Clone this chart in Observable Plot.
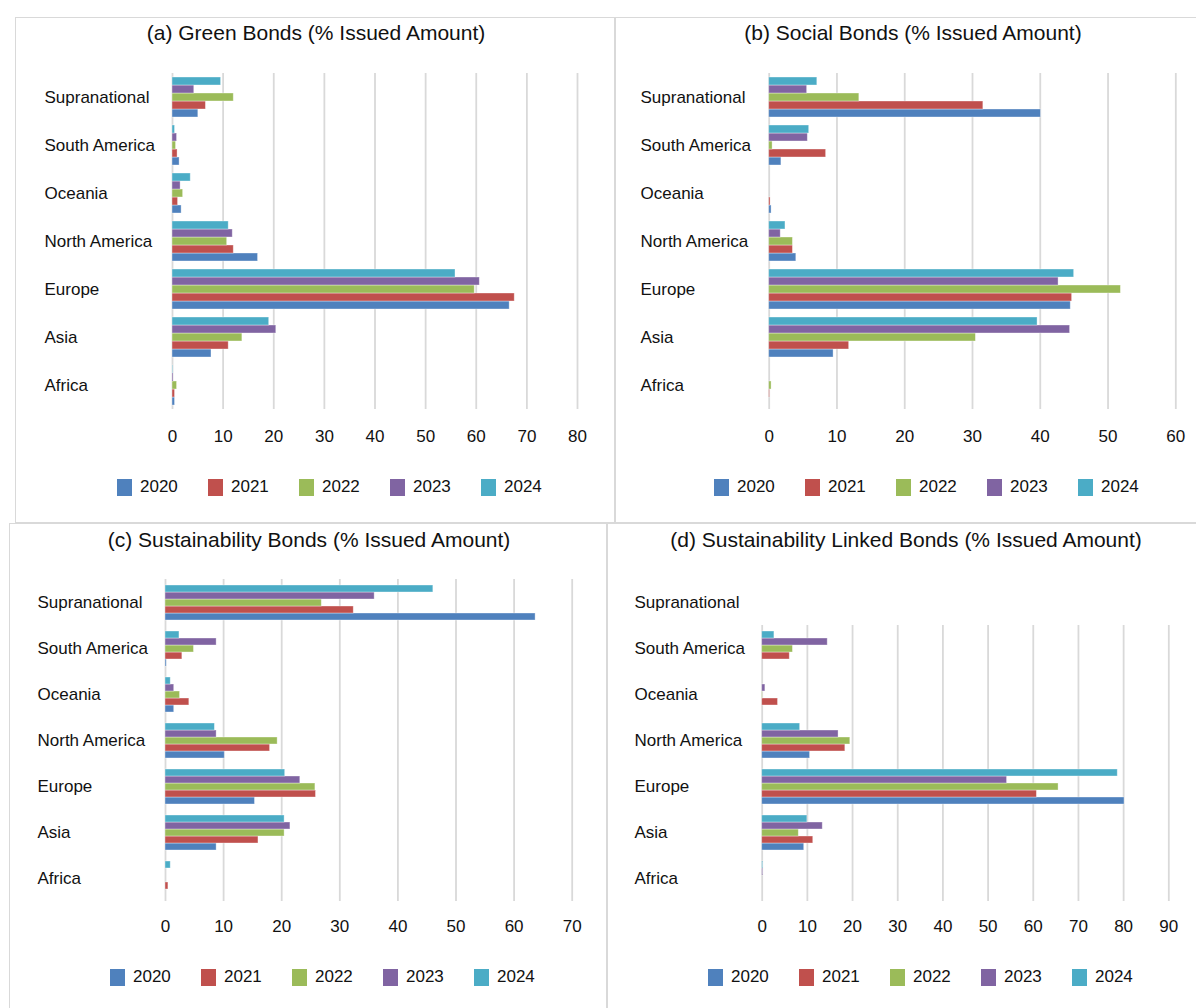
<!DOCTYPE html>
<html><head><meta charset="utf-8">
<script src="https://cdn.jsdelivr.net/npm/d3@7"></script>
<script src="https://cdn.jsdelivr.net/npm/@observablehq/plot@0.6"></script>
<style>
body{margin:0;background:#fff;font-family:"Liberation Sans",Arial,sans-serif;color:#111;}
#root{position:relative;width:1196px;height:1008px;overflow:hidden;background:#fff;}
.panel{position:absolute;border:1px solid #d9d9d9;box-sizing:border-box;background:#fff;}
.title{position:absolute;font-size:21px;white-space:nowrap;transform:translate(-50%,-50%);color:#111;}
.legend{position:absolute;display:flex;font-size:17px;transform:translateY(-50%);color:#111;}
.item{display:flex;align-items:center;width:91px;}
.sw{width:15px;height:17px;margin-right:8px;box-sizing:border-box;}
.chart{position:absolute;}
</style></head><body><div id="root"></div>
<script>
// Categories (top to bottom) and series
const regions = ["Supranational","South America","Oceania","North America","Europe","Asia","Africa"];
const years = ["2020","2021","2022","2023","2024"];
const yearColors = ["#4F81BD","#C0504D","#9BBB59","#8064A2","#4BACC6"];

// (a) Green Bonds, % issued amount, values in region order
const green2020 = [5.1, 1.4, 1.8, 16.9, 66.6, 7.7, 0.5];
const green2021 = [6.6, 1.0, 1.1, 12.1, 67.6, 11.1, 0.5];
const green2022 = [12.1, 0.7, 2.1, 10.8, 59.7, 13.8, 0.9];
const green2023 = [4.3, 0.9, 1.6, 11.9, 60.7, 20.5, 0.2];
const green2024 = [9.6, 0.5, 3.6, 11.1, 55.9, 19.1, 0.1];

// (b) Social Bonds
const social2020 = [40.1, 1.8, 0.35, 4.0, 44.5, 9.5, 0];
const social2021 = [31.6, 8.4, 0.2, 3.5, 44.7, 11.8, 0.1];
const social2022 = [13.3, 0.5, 0, 3.5, 51.9, 30.5, 0.35];
const social2023 = [5.6, 5.7, 0, 1.7, 42.7, 44.4, 0];
const social2024 = [7.1, 5.9, 0, 2.4, 45.0, 39.6, 0];

// (c) Sustainability Bonds
const sust2020 = [63.7, 0.2, 1.5, 10.2, 15.4, 8.8, 0];
const sust2021 = [32.4, 2.9, 4.1, 18.0, 25.9, 16.0, 0.5];
const sust2022 = [26.9, 4.9, 2.5, 19.3, 25.8, 20.5, 0];
const sust2023 = [36.0, 8.8, 1.5, 8.8, 23.2, 21.5, 0];
const sust2024 = [46.1, 2.4, 0.9, 8.5, 20.6, 20.5, 0.9];

// (d) Sustainability Linked Bonds
const slb2020 = [0, 0, 0, 10.6, 80.2, 9.3, 0];
const slb2021 = [0, 6.1, 3.5, 18.4, 60.8, 11.3, 0];
const slb2022 = [0, 6.8, 0.1, 19.5, 65.6, 8.1, 0];
const slb2023 = [0, 14.5, 0.7, 16.9, 54.2, 13.4, 0.2];
const slb2024 = [0, 2.7, 0, 8.4, 78.7, 10.0, 0.2];

// Axis maxima
const xMaxes = [80, 60, 70, 90];
const titles = [
  "(a) Green Bonds (% Issued Amount)",
  "(b) Social Bonds (% Issued Amount)",
  "(c) Sustainability Bonds (% Issued Amount)",
  "(d) Sustainability Linked Bonds (% Issued Amount)"
];
const series = [
  [green2020, green2021, green2022, green2023, green2024],
  [social2020, social2021, social2022, social2023, social2024],
  [sust2020, sust2021, sust2022, sust2023, sust2024],
  [slb2020, slb2021, slb2022, slb2023, slb2024]
];

// Layout (page pixels)
const layout = [
  {box:[15,17,600,506], svgTop:60, frameTop:73, frameBottom:409, x0:172, x1:577, labelX:44, title:[316,33], legend:[117,487], pad:20},
  {box:[615,17,600,506], svgTop:60, frameTop:73, frameBottom:409, x0:768.7, x1:1175.3, labelX:640, title:[913,33], legend:[714,487], pad:20},
  {box:[9,523,598,500], svgTop:566, frameTop:579, frameBottom:901, x0:165, x1:571.7, labelX:37, title:[309,540], legend:[110,977], pad:18},
  {box:[607,523,600,500], svgTop:566, frameTop:579, frameBottom:901, x0:761.7, x1:1168.3, labelX:634, title:[906,540], legend:[708,977], pad:18}
];

const root = document.getElementById("root");

layout.forEach((L, k) => {
  const [bl, bt, bw, bh] = L.box;
  const panel = document.createElement("div");
  panel.className = "panel";
  Object.assign(panel.style, {left: bl+"px", top: bt+"px", width: bw+"px", height: bh+"px"});
  root.appendChild(panel);

  const rows = [];
  regions.forEach((r, i) => years.forEach((y, j) => {
    const v = series[k][j][i];
    if (v > 0) rows.push({region: r, year: y, value: v});
  }));

  const xmax = xMaxes[k];
  const ticks = d3.range(0, xmax + 1, 10);
  const height = L.frameBottom + 41 - L.svgTop;
  const svg = Plot.plot({
    width: bw,
    height,
    marginLeft: L.x0 - bl,
    marginRight: bl + bw - L.x1,
    marginTop: L.frameTop - L.svgTop,
    marginBottom: height - (L.frameBottom - L.svgTop),
    style: {fontFamily: '"Liberation Sans", Arial, sans-serif', fontSize: "17px", color: "#111", background: "transparent", overflow: "visible"},
    x: {domain: [0, xmax], axis: null},
    y: {domain: years.slice().reverse(), paddingInner: 0, paddingOuter: 0.5, axis: null},
    fy: {domain: regions, padding: 0, label: null},
    color: {domain: years, range: yearColors},
    marks: [
      Plot.gridX(ticks, {stroke: "#d9d9d9", strokeOpacity: 1, strokeWidth: 1.8}),
      Plot.barX(rows, {x: "value", y: "year", fy: "region", fill: "year", stroke: "#ffffff", strokeOpacity: 0.45, strokeWidth: 0.8}),
      Plot.axisX({ticks, tickSize: 0, tickPadding: L.pad, label: null, fontSize: 17}),
      Plot.axisFy({anchor: "left", tickSize: 0, tickPadding: 0, textAnchor: "start", dx: L.labelX - L.x0, label: null, fontSize: 17})
    ]
  });
  svg.classList.add("chart");
  Object.assign(svg.style, {left: bl+"px", top: L.svgTop+"px"});
  root.appendChild(svg);

  const t = document.createElement("div");
  t.className = "title";
  t.textContent = titles[k];
  Object.assign(t.style, {left: L.title[0]+"px", top: L.title[1]+"px"});
  root.appendChild(t);

  const lg = document.createElement("div");
  lg.className = "legend";
  Object.assign(lg.style, {left: L.legend[0]+"px", top: L.legend[1]+"px"});
  years.forEach((y, j) => {
    const it = document.createElement("div");
    it.className = "item";
    const sw = document.createElement("span");
    sw.className = "sw";
    sw.style.background = yearColors[j];
    const tx = document.createElement("span");
    tx.textContent = y;
    it.appendChild(sw); it.appendChild(tx);
    lg.appendChild(it);
  });
  root.appendChild(lg);
});
</script></body></html>
